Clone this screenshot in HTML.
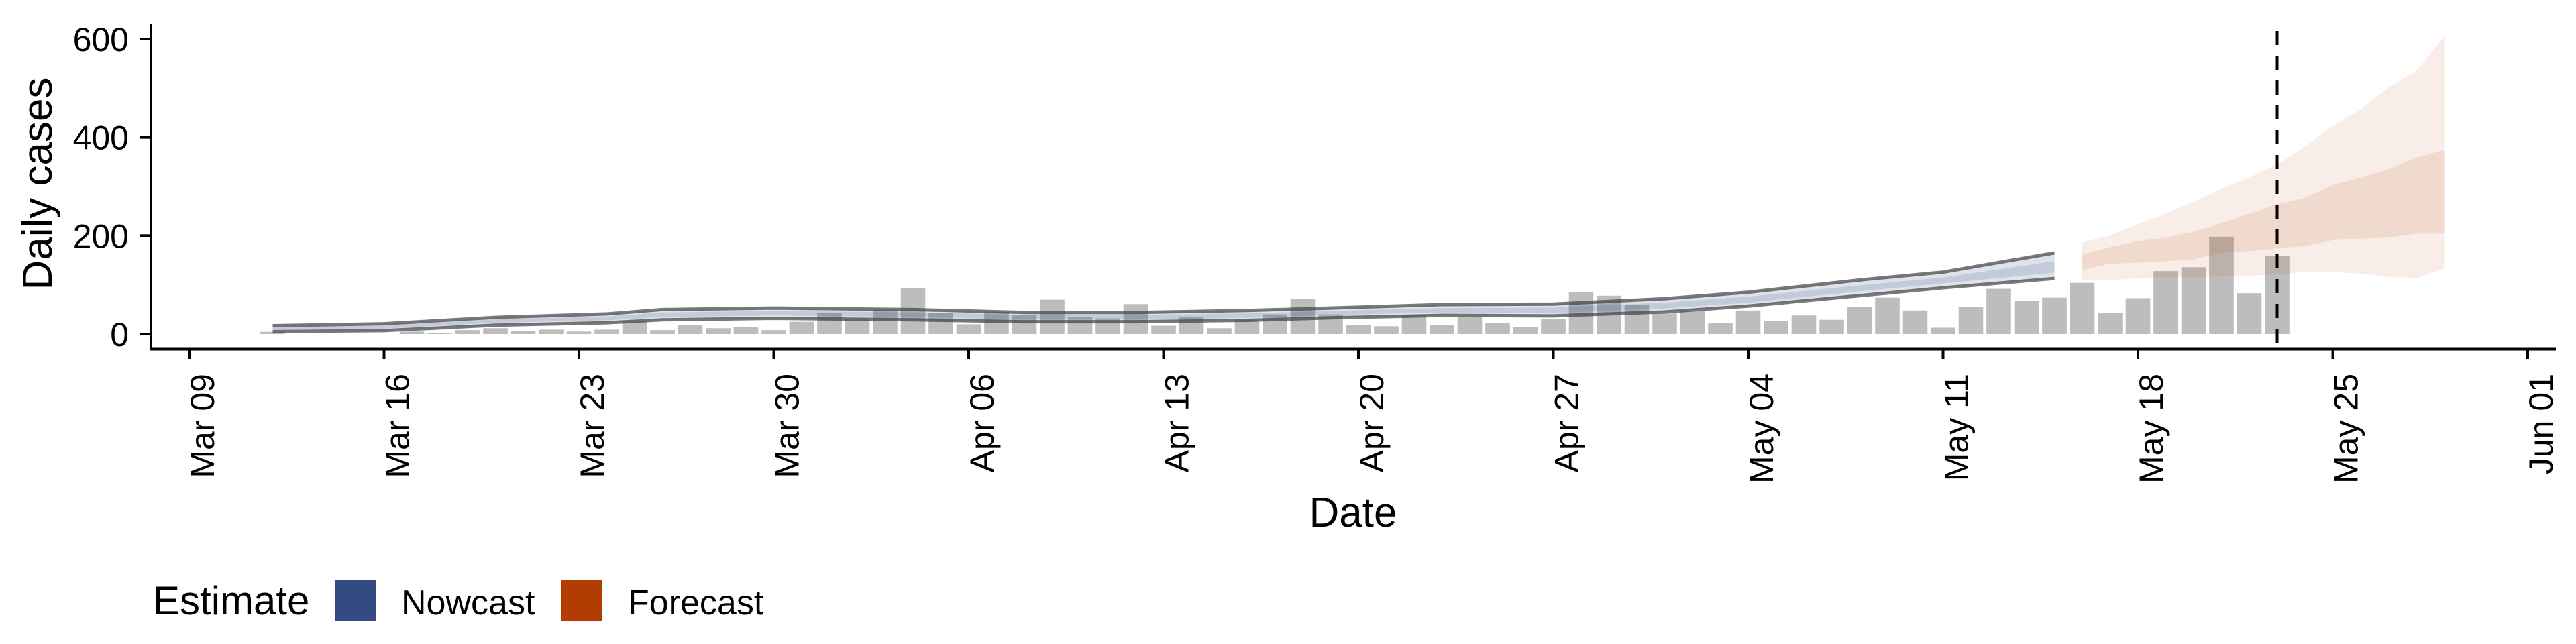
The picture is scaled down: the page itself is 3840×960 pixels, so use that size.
<!DOCTYPE html>
<html><head><meta charset="utf-8"><style>
html,body{margin:0;padding:0;background:#fff;}
svg{display:block;font-family:"Liberation Sans",Arial,sans-serif;}
</style></head><body>
<svg id="chart" width="3840" height="960" viewBox="0 0 3840 960" xmlns="http://www.w3.org/2000/svg">
<g id="plot"></g>
<text transform="translate(77,274) rotate(-90)" text-anchor="middle" font-size="62">Daily cases</text>
<text x="2017" y="785" text-anchor="middle" font-size="62">Date</text>
<g>
<text x="228" y="916" font-size="60">Estimate</text>
<rect x="500" y="864" width="61" height="62" fill="#344b82"/>
<text x="598" y="916" font-size="52">Nowcast</text>
<rect x="837" y="864" width="61" height="62" fill="#b33c03"/>
<text x="936" y="916" font-size="52">Forecast</text>
</g>
</svg>
<script>
// day index 0 = Mar 09
const barStartDay = 3;
const barValues = [4.5,0,0,0,0,5,2,8,12,6,9,5,9,27,8,19,12,15,8,25,
43,30,49,94,43,20,45,38,70,34,32,61,17,34,12,29,40,72,40,19,16,38,19,36,22,15,30,85,78,59,
42,47,23,48,27,38,29,55,74,48,13,55,92,68,74,104,43,73,128,136,198,83,159];
const nowDays = [3,7,11,15,17,21,26,30,34,38,41,45,49,53,56,60,63,67];
const nowUpper90 = [17,21,34,41,50,53,50,44,44,48,53,60,61,72,85,110,126,165];
const nowLower90 = [5,7,18,23,29,32,29,25,25,28,33,38,37,45,57,78,94,113];
const nowUpper50 = [14,17,30,36,44,47,44,39,39,42,47,53,54,64,76,99,115,148];
const nowLower50 = [9,11,23,28,35,38,35,30,30,33,39,44,43,52,64,87,103,125];
const foreStartDay = 68;
const foreUpper90 = [186,201,223,245,269,296,318,345,381,423,457,501,535,605];
const foreUpper50 = [162,177,189,196,208,225,245,264,277,303,318,335,359,374];
const foreLower50 = [130,143,145,148,152,165,169,174,179,191,194,196,204,204];
const foreLower90 = [110,110,113,116,116,117,119,121,126,126,123,116,114,133];
const yTicks = [0,200,400,600];
const xTickLabels = ["Mar 09","Mar 16","Mar 23","Mar 30","Apr 06","Apr 13","Apr 20","Apr 27","May 04","May 11","May 18","May 25","Jun 01"];
const dataDate = 75;

const NS="http://www.w3.org/2000/svg";
const X0=282, DX=41.5, Y0=498, KY=440/600;
function xs(d){return X0+d*DX;}
function ys(v){return Y0-v*KY;}
const g=document.getElementById('plot');
function mk(tag,attrs){const e=document.createElementNS(NS,tag);for(const k in attrs)e.setAttribute(k,attrs[k]);g.appendChild(e);return e;}

// bars
barValues.forEach((v,i)=>{
  if(v<=0)return;
  const d=barStartDay+i;
  const r=mk('rect',{x:xs(d)-18.3,y:ys(v),width:36.6,height:Y0-ys(v),fill:'#bdbdbd'});
  
  
});
function band(days,up,lo,fill,op,name){
  let p='M'+days.map((d,i)=>xs(d)+','+ys(up[i])).join('L');
  for(let i=days.length-1;i>=0;i--)p+='L'+xs(days[i])+','+ys(lo[i]);
  const e=mk('path',{d:p+'Z',fill:fill,'fill-opacity':op});
  
  
}
function line(days,vals,name){
  const e=mk('path',{d:'M'+days.map((d,i)=>xs(d)+','+ys(vals[i])).join('L'),fill:'none',stroke:'#404040','stroke-opacity':0.7,'stroke-width':5,'stroke-linejoin':'round'});
  
  
}
band(nowDays,nowUpper90,nowLower90,'#344b82',0.16,'nowcast-band-90');
band(nowDays,nowUpper50,nowLower50,'#344b82',0.155,'nowcast-band-50');
line(nowDays,nowUpper90,'nowcast-upper-line');
line(nowDays,nowLower90,'nowcast-lower-line');
const foreDays=foreUpper90.map((_,i)=>foreStartDay+i);
band(foreDays,foreUpper90,foreLower90,'#b33c03',0.095,'forecast-band-90');
band(foreDays,foreUpper50,foreLower50,'#b33c03',0.11,'forecast-band-50');

// dashed data-date line
const dl=mk('line',{x1:xs(dataDate),x2:xs(dataDate),y1:46,y2:520,stroke:'#000','stroke-width':4,'stroke-dasharray':'21 16'});



// axes
const ya=mk('line',{x1:225,x2:225,y1:36,y2:522,stroke:'#000','stroke-width':4});


const xa=mk('line',{x1:223,x2:3810,y1:520.5,y2:520.5,stroke:'#000','stroke-width':4});


yTicks.forEach(v=>{
  const t=mk('line',{x1:209,x2:225,y1:ys(v),y2:ys(v),stroke:'#000','stroke-width':4});
  
  
  const l=mk('text',{x:192,y:ys(v)+18,'text-anchor':'end','font-size':50});
  l.textContent=v;
  
  
});
xTickLabels.forEach((s,i)=>{
  const x=xs(i*7);
  const t=mk('line',{x1:x,x2:x,y1:520,y2:535,stroke:'#000','stroke-width':4});
  
  
  const l=mk('text',{transform:'translate('+(x+37)+',557) rotate(-90)','text-anchor':'end','font-size':50});
  l.textContent=s;
  
  
});
</script>
</body></html>
